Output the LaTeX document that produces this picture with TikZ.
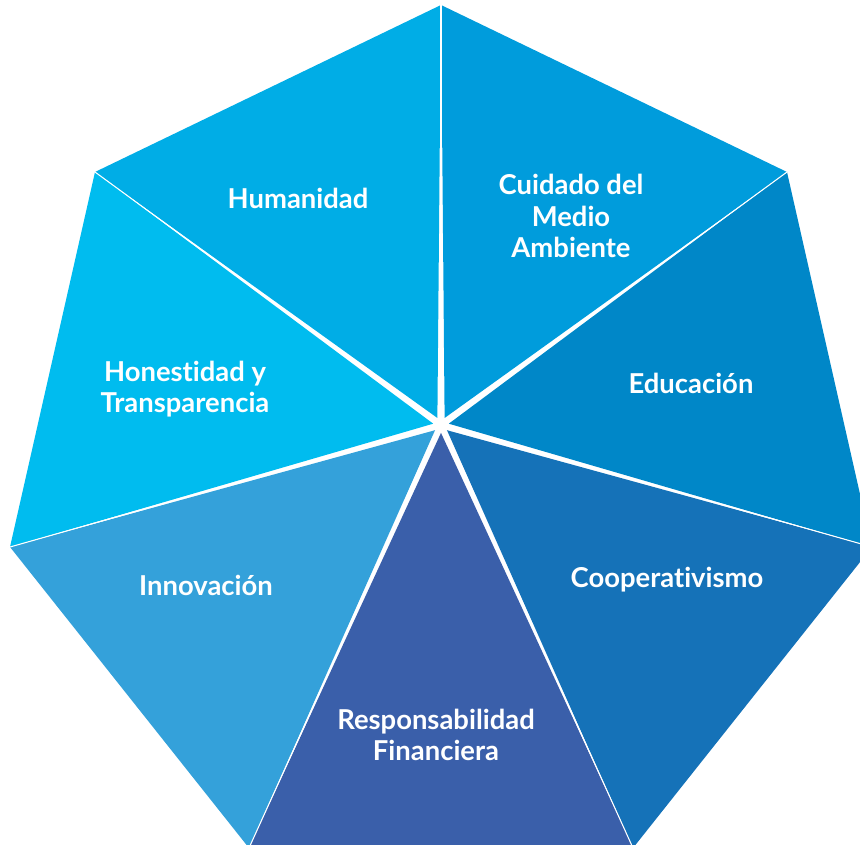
\documentclass[tikz,border=0pt]{standalone}
\usepackage{fontspec}
\setmainfont[Ligatures=NoCommon]{Lato}
\usetikzlibrary{calc}

\begin{document}
\begin{tikzpicture}[x=0.02cm, y=-0.02cm,
    sector/.style={fill=#1, draw=none},
    spoke/.style={white, line width=0.6pt},
    valuetext/.style={text=white, align=center, inner sep=0pt, font=\fontsize{15.6}{18}\selectfont\bfseries}
  ]

\definecolor{humancol}{RGB}{0, 173, 230}
\definecolor{envcol}{RGB}{0, 156, 220}
\definecolor{educol}{RGB}{0, 135, 200}
\definecolor{coopcol}{RGB}{21, 114, 184}
\definecolor{fincol}{RGB}{58, 95, 170}
\definecolor{innocol}{RGB}{52, 161, 218}
\definecolor{honestcol}{RGB}{0, 188, 239}

\useasboundingbox (0,0) rectangle (860,845);
\clip (0,0) rectangle (860,845);

% corners of the heptagon
\coordinate (top) at (441,5);
\coordinate (ur) at (787,172);
\coordinate (r) at (872,547);
\coordinate (br) at (633,848);
\coordinate (bl) at (249,848);
\coordinate (l) at (10,547);
\coordinate (ul) at (95,172);
\coordinate (hub) at (441,425);

% sectors, each pulled a bit off the hub so white gaps show
\fill[sector=humancol] ($(hub)!4.5pt!($(ul)!0.5!(top)$)$) -- (ul) -- (top) -- cycle;
\fill[sector=envcol] ($(hub)!4.5pt!($(top)!0.5!(ur)$)$) -- (top) -- (ur) -- cycle;
\fill[sector=educol] ($(hub)!4.5pt!($(ur)!0.5!(r)$)$) -- (ur) -- (r) -- cycle;
\fill[sector=coopcol] ($(hub)!4.5pt!($(r)!0.5!(br)$)$) -- (r) -- (br) -- cycle;
\fill[sector=fincol] ($(hub)!4.5pt!($(br)!0.5!(bl)$)$) -- (br) -- (bl) -- cycle;
\fill[sector=innocol] ($(hub)!4.5pt!($(bl)!0.5!(l)$)$) -- (bl) -- (l) -- cycle;
\fill[sector=honestcol] ($(hub)!4.5pt!($(l)!0.5!(ul)$)$) -- (l) -- (ul) -- cycle;

% thin white spokes
\draw[spoke] (hub) -- (top);
\draw[spoke] (hub) -- (ur);
\draw[spoke] (hub) -- (r);
\draw[spoke] (hub) -- (br);
\draw[spoke] (hub) -- (bl);
\draw[spoke] (hub) -- (l);
\draw[spoke] (hub) -- (ul);

% texts
\node[valuetext] (humanidad) at (298,198) {Humanidad};
\node[valuetext] (ambiente) at (571,216) {Cuidado del\\Medio\\Ambiente};
\node[valuetext] (educacion) at (691,383) {Educación};
\node[valuetext] (cooperativismo) at (667,580) {Cooperativismo};
\node[valuetext] (financiera) at (436,735) {Responsabilidad\\Financiera};
\node[valuetext] (innovacion) at (206,585) {Innovación};
\node[valuetext] (honestidad) at (185,389) {Honestidad y\\Transparencia};

\end{tikzpicture}
\end{document}
